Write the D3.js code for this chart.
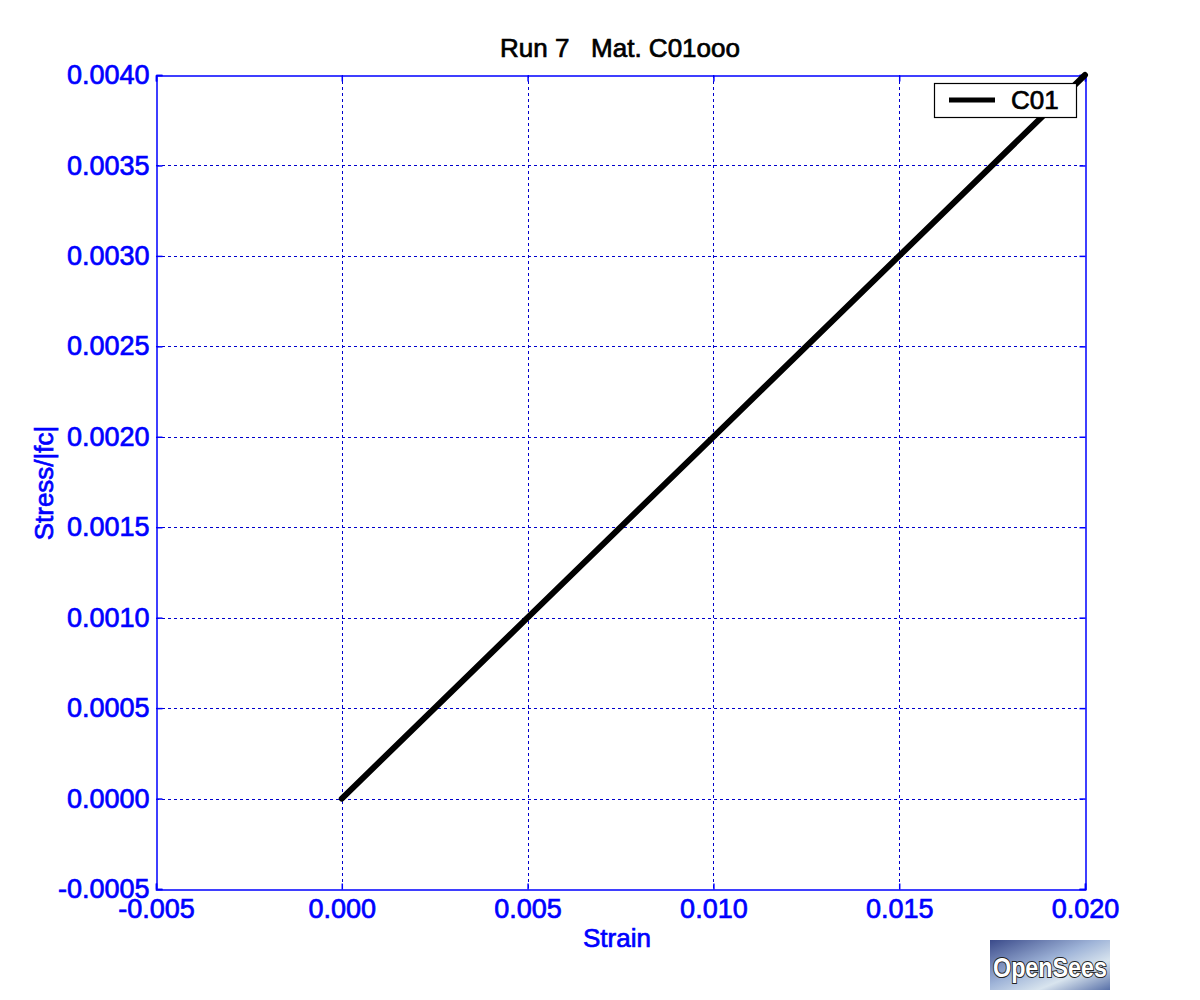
<!DOCTYPE html>
<html>
<head>
<meta charset="utf-8">
<script src="https://cdn.jsdelivr.net/npm/d3@7"></script>
<style>
body{margin:0;background:#fff;}
svg{display:block;}
text{font-family:"Liberation Sans",Arial,sans-serif;}
</style>
</head>
<body>
<svg id="c" width="1200" height="1000"></svg>
<script>
const strain = [0, 0.005, 0.010, 0.015, 0.020];
const stress = [0, 0.0010, 0.0020, 0.0030, 0.0040];
const xTicks = [-0.005, 0.000, 0.005, 0.010, 0.015, 0.020];
const yTicks = [-0.0005, 0.0000, 0.0005, 0.0010, 0.0015, 0.0020, 0.0025, 0.0030, 0.0035, 0.0040];
const seriesName = "C01";
const title = "Run 7   Mat. C01ooo";

const svg = d3.select("#c");
svg.append("rect").attr("width",1200).attr("height",1000).attr("fill","#fff");
const L=156,R=1085,T=75,B=889;
const x = d3.scaleLinear().domain([-0.005,0.020]).range([L,R]);
const y = d3.scaleLinear().domain([-0.0005,0.0040]).range([B,T]);
const blue="#0000ff";
const semi = sel => sel.style("font-weight","normal").attr("stroke-width",0.7).attr("paint-order","fill");

// grid
const g = svg.append("g");
g.selectAll(".vg").data(xTicks.slice(1,-1)).enter().append("line")
 .attr("x1",d=>Math.round(x(d))+0.5).attr("x2",d=>Math.round(x(d))+0.5)
 .attr("y1",T).attr("y2",B).attr("stroke","#0000cc").attr("stroke-width",1).attr("stroke-dasharray","3,3");
g.selectAll(".hg").data(yTicks.slice(1,-1)).enter().append("line")
 .attr("y1",d=>Math.round(y(d))+0.5).attr("y2",d=>Math.round(y(d))+0.5)
 .attr("x1",L).attr("x2",R).attr("stroke","#0000cc").attr("stroke-width",1).attr("stroke-dasharray","3,3");

// axes with inward ticks
const fmtX = d => d3.format(".3f")(d).replace("\u2212","-");
const fmtY = d => d3.format(".4f")(d).replace("\u2212","-");
const ax = svg.append("g").attr("transform",`translate(0,${B+0.5})`)
 .call(d3.axisBottom(x).tickValues(xTicks).tickSize(-6).tickPadding(16).tickFormat(fmtX));
const axT = svg.append("g").attr("transform",`translate(0,${T+0.5})`)
 .call(d3.axisTop(x).tickValues(xTicks).tickSize(-6).tickFormat(""));
const ay = svg.append("g").attr("transform",`translate(${L+0.5},0)`)
 .call(d3.axisLeft(y).tickValues(yTicks).tickSize(-6).tickPadding(7).tickFormat(fmtY));
const ayR = svg.append("g").attr("transform",`translate(${R+0.5},0)`)
 .call(d3.axisRight(y).tickValues(yTicks).tickSize(-6).tickFormat(""));
[ax,axT,ay,ayR].forEach(a=>{
  a.selectAll("path").attr("stroke",blue).attr("stroke-width",1.5);
  a.selectAll("line").attr("stroke",blue).attr("stroke-width",1.5);
  a.selectAll("text").attr("fill",blue).attr("stroke",blue).style("font-size","27px")
   .style("font-family","'Liberation Sans',Arial,sans-serif").call(semi);
});
ax.selectAll("text").attr("dy","0.45em");

// line
const pts = strain.map((s,i)=>[s,stress[i]]);
svg.append("path").datum(pts)
 .attr("d",d3.line().x(d=>x(d[0])).y(d=>y(d[1])))
 .attr("fill","none").attr("stroke","#000").attr("stroke-width",6).attr("stroke-linecap","round");

// title
svg.append("text").attr("x",620).attr("y",57).attr("text-anchor","middle")
 .style("font-size","26px").attr("fill","#000").attr("stroke","#000").call(semi)
 .attr("xml:space","preserve").text(title);
// axis labels
svg.append("text").attr("x",617).attr("y",947).attr("text-anchor","middle")
 .style("font-size","26px").attr("fill",blue).attr("stroke",blue).call(semi).text("Strain");
svg.append("text").attr("transform","translate(53,483) rotate(-90)").attr("text-anchor","middle")
 .style("font-size","26px").attr("fill",blue).attr("stroke",blue).call(semi).text("Stress/|fc|");

// legend
const lg = svg.append("g");
lg.append("rect").attr("x",934.5).attr("y",83.5).attr("width",142).attr("height",34)
 .attr("fill","#fff").attr("stroke","#000").attr("stroke-width",1.2);
lg.append("line").attr("x1",949).attr("x2",995).attr("y1",100).attr("y2",100)
 .attr("stroke","#000").attr("stroke-width",5);
lg.append("text").attr("x",1011).attr("y",109).style("font-size","26px")
 .attr("fill","#000").attr("stroke","#000").call(semi).text(seriesName);

// OpenSees logo
const defs = svg.append("defs");
const gr = defs.append("linearGradient").attr("id","lg1").attr("x1","0").attr("y1","0").attr("x2","1").attr("y2","1");
gr.append("stop").attr("offset","0").attr("stop-color","#3a4a8a");
gr.append("stop").attr("offset","0.45").attr("stop-color","#9fb4d8");
gr.append("stop").attr("offset","0.7").attr("stop-color","#d8e4ee");
gr.append("stop").attr("offset","1").attr("stop-color","#5870a8");
svg.append("rect").attr("x",990).attr("y",940).attr("width",120).attr("height",50).attr("fill","url(#lg1)");
svg.append("text").attr("x",1050).attr("y",977).attr("text-anchor","middle")
 .style("font-size","28px").style("font-weight","bold").attr("fill","#fff")
 .attr("stroke","#222").attr("stroke-width",2).attr("paint-order","stroke")
 .attr("textLength",114).attr("lengthAdjust","spacingAndGlyphs").text("OpenSees");
</script>
</body>
</html>
